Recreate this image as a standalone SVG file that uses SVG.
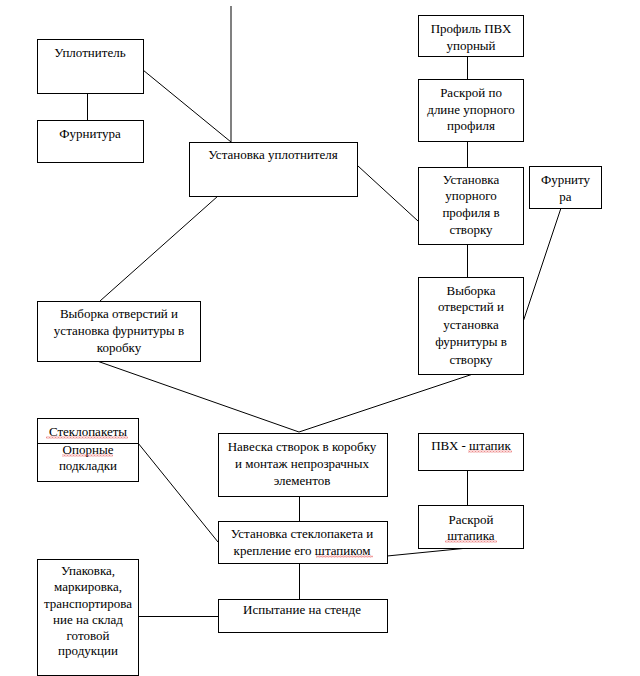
<svg xmlns="http://www.w3.org/2000/svg" width="640" height="676" viewBox="0 0 640 676" font-family="Liberation Serif, Times New Roman, Times, serif">
<style>
.b{fill:#fff;stroke:#000;stroke-width:1}
.t{font-size:13px;fill:#000;text-anchor:middle}
.c{stroke:#000;stroke-width:1;fill:none}
.w{fill:url(#wavy)}
</style>
<defs>
<pattern id="wavy" width="3" height="2" patternUnits="userSpaceOnUse">
<path d="M0,1.6 L0.75,0.4 L1.5,1.6 L2.25,0.4 L3,1.6" fill="none" stroke="#e03030" stroke-width="0.6"/>
</pattern>
</defs>
<rect width="640" height="676" fill="#fff"/>
<g id="connectors">
<line x1="231" y1="6" x2="231" y2="142" stroke="#808080" stroke-width="2"/>
<line class="c" x1="87.5" y1="93" x2="87.5" y2="120"/>
<line class="c" x1="143" y1="70" x2="231" y2="142"/>
<line class="c" x1="467.5" y1="56" x2="467.5" y2="79"/>
<line class="c" x1="467.5" y1="141" x2="467.5" y2="167"/>
<line class="c" x1="358" y1="166" x2="418" y2="221"/>
<line class="c" x1="218" y1="196" x2="100" y2="301"/>
<line class="c" x1="467.5" y1="244" x2="467.5" y2="277"/>
<line class="c" x1="561" y1="208" x2="523" y2="322"/>
<line class="c" x1="97" y1="361" x2="299" y2="432"/>
<line class="c" x1="473" y1="374" x2="299" y2="432"/>
<line class="c" x1="299.5" y1="496" x2="299.5" y2="521"/>
<line class="c" x1="138" y1="443" x2="218" y2="542"/>
<line class="c" x1="467.5" y1="470" x2="467.5" y2="505"/>
<line class="c" x1="387" y1="556" x2="468" y2="548"/>
<line class="c" x1="299.5" y1="563" x2="299.5" y2="599"/>
<line class="c" x1="138" y1="616.5" x2="218" y2="616.5"/>
</g>
<g id="uplotnitel"><rect class="b" x="37.5" y="39.5" width="106" height="54"/><text class="t" x="90" y="57">Уплотнитель</text></g>
<g id="furnitura1"><rect class="b" x="37.5" y="120.5" width="106" height="42"/><text class="t" x="90" y="138">Фурнитура</text></g>
<g id="ustanovka-uplotnitelya"><rect class="b" x="189.5" y="142.5" width="168" height="54"/><text class="t" x="273" y="159">Установка уплотнителя</text></g>
<g id="profil-pvh"><rect class="b" x="418.5" y="15.5" width="105" height="41"/><text class="t" x="471" y="33">Профиль ПВХ</text><text class="t" x="471" y="49.5">упорный</text></g>
<g id="raskroy-profilya"><rect class="b" x="418.5" y="79.5" width="105" height="62"/><text class="t" x="471" y="97">Раскрой по</text><text class="t" x="471" y="113.5">длине упорного</text><text class="t" x="471" y="130">профиля</text></g>
<g id="ustanovka-upornogo"><rect class="b" x="418.5" y="167.5" width="105" height="77"/><text class="t" x="471" y="183.5">Установка</text><text class="t" x="471" y="200">упорного</text><text class="t" x="471" y="217">профиля в</text><text class="t" x="471" y="234">створку</text></g>
<g id="furnitura2"><rect class="b" x="529.5" y="166.5" width="72" height="42"/><text class="t" x="565.5" y="184">Фурниту</text><text class="t" x="565.5" y="201">ра</text></g>
<g id="vyborka-korobka"><rect class="b" x="37.5" y="301.5" width="163" height="60"/><text class="t" x="119" y="318">Выборка отверстий и</text><text class="t" x="119" y="335">установка фурнитуры в</text><text class="t" x="119" y="352">коробку</text></g>
<g id="vyborka-stvorka"><rect class="b" x="418.5" y="277.5" width="105" height="97"/><text class="t" x="471" y="294.5">Выборка</text><text class="t" x="471" y="311">отверстий и</text><text class="t" x="471" y="328.5">установка</text><text class="t" x="471" y="346">фурнитуры в</text><text class="t" x="471" y="363.5">створку</text></g>
<g id="steklopakety"><rect class="b" x="37.5" y="418.5" width="101" height="63"/><line class="c" x1="37.5" y1="443.5" x2="138.5" y2="443.5"/><text class="t" x="88" y="435.5">Стеклопакеты</text><text class="t" x="88" y="453.5">Опорные</text><text class="t" x="88" y="469.5">подкладки</text><rect class="w" x="46" y="436.5" width="82" height="2"/><rect class="w" x="62" y="454.5" width="51" height="2"/></g>
<g id="naveska"><rect class="b" x="218.5" y="433.5" width="169" height="63"/><text class="t" x="302" y="450.5">Навеска створок в коробку</text><text class="t" x="302" y="468">и монтаж непрозрачных</text><text class="t" x="302" y="484.5">элементов</text></g>
<g id="ustanovka-steklopaketa"><rect class="b" x="218.5" y="521.5" width="169" height="42"/><text class="t" x="302" y="538">Установка стеклопакета и</text><text class="t" x="302" y="554.5">крепление его штапиком</text><rect class="w" x="316" y="555.5" width="57" height="2"/></g>
<g id="pvh-shtapik"><rect class="b" x="418.5" y="433.5" width="105" height="37"/><text class="t" x="471" y="449.5">ПВХ - штапик</text><rect class="w" x="468" y="450.5" width="44" height="2"/></g>
<g id="raskroy-shtapika"><rect class="b" x="418.5" y="505.5" width="105" height="43"/><text class="t" x="471" y="524">Раскрой</text><text class="t" x="471" y="539.5">штапика</text><rect class="w" x="445" y="540.5" width="52" height="2"/></g>
<g id="ispytanie"><rect class="b" x="218.5" y="599.5" width="169" height="33"/><text class="t" x="302" y="614">Испытание на стенде</text></g>
<g id="upakovka"><rect class="b" x="37.5" y="559.5" width="101" height="116"/><text class="t" x="88" y="575">Упаковка,</text><text class="t" x="88" y="591">маркировка,</text><text class="t" x="88" y="607.5">транспортирова</text><text class="t" x="88" y="623.5">ние на склад</text><text class="t" x="88" y="639.5">готовой</text><text class="t" x="88" y="655">продукции</text></g>
</svg>
